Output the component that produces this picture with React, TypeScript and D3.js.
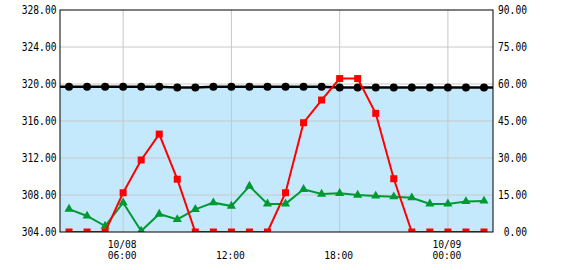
import React from "react";
import * as d3 from "d3";

const startTime = new Date(2024, 9, 8, 3, 0);
const levelValues = [319.7, 319.7, 319.7, 319.7, 319.7, 319.7, 319.62, 319.62, 319.7, 319.7, 319.7, 319.7, 319.7, 319.7, 319.7, 319.62, 319.62, 319.62, 319.62, 319.62, 319.62, 319.62, 319.62, 319.62];
const inflowValues = [0, 0, 0, 15.9, 29.2, 39.7, 21.4, 0, 0, 0, 0, 0, 15.9, 44.3, 53.5, 62.2, 62.2, 48.1, 21.6, 0, 0, 0, 0, 0];
const outflowValues = [9.3, 6.5, 2.4, 11.9, 0.4, 7.3, 5.1, 9.2, 11.9, 10.5, 18.6, 11.4, 11.4, 17.3, 15.4, 15.7, 15.0, 14.6, 14.3, 13.9, 11.4, 11.4, 12.4, 12.6];
const leftTicks = [304, 308, 312, 316, 320, 324, 328];
const rightTicks = [0, 15, 30, 45, 60, 75, 90];
const xTickTimes = [new Date(2024, 9, 8, 6), new Date(2024, 9, 8, 12), new Date(2024, 9, 8, 18), new Date(2024, 9, 9, 0)];
const xTickLines = [["10/08", "06:00"], ["", "12:00"], ["", "18:00"], ["10/09", "00:00"]];

const L = 60, R = 493, T = 10, B = 232;
const FONT = "'DejaVu Sans Mono', monospace";

export default function App() {
  const times = levelValues.map((_, i) => new Date(startTime.getTime() + i * 3600000));
  const x = d3.scaleTime().domain([new Date(2024, 9, 8, 2, 30), new Date(2024, 9, 9, 2, 30)]).range([L, R]);
  const yL = d3.scaleLinear().domain([304, 328]).range([B, T]);
  const yR = d3.scaleLinear().domain([0, 90]).range([B, T]);

  const levelPts: [number, number][] = [
    [L, yL(levelValues[0])],
    ...levelValues.map((v, i) => [x(times[i]), yL(v)] as [number, number]),
    [R, yL(levelValues[levelValues.length - 1])],
  ];
  const line = d3.line();
  const area = d3.area().y0(B);
  const inflowPts = inflowValues.map((v, i) => [x(times[i]), yR(v)] as [number, number]);
  const outflowPts = outflowValues.map((v, i) => [x(times[i]), yR(v)] as [number, number]);
  const tri = d3.symbol(d3.symbolTriangle, 36)();

  const cw = 5.8;
  return (
    <svg width={570} height={270} style={{ position: "absolute", left: 0, top: 0 }}>
      <defs>
        <clipPath id="plot"><rect x={L} y={T} width={R - L} height={B - T} /></clipPath>
      </defs>
      <rect x={0} y={0} width={570} height={270} fill="#fff" />
      <path d={area(levelPts.map(([a, b]) => [a, b + 1]) as any) || ""} fill="#c4e9fc" />
      {leftTicks.slice(1, -1).map((t) => (
        <line key={"h" + t} x1={L} x2={R} y1={yL(t)} y2={yL(t)} stroke="#c8c8c8" strokeWidth={1} />
      ))}
      {xTickTimes.map((t, i) => (
        <line key={"v" + i} x1={x(t)} x2={x(t)} y1={T} y2={B} stroke="#c8c8c8" strokeWidth={1} />
      ))}
      <g clipPath="url(#plot)">
        <path d={line(levelPts) || ""} fill="none" stroke="#000" strokeWidth={2.5} />
        {levelPts.slice(1, -1).map(([a, b], i) => (
          <circle key={"c" + i} cx={a} cy={b} r={4} fill="#000" />
        ))}
        <path d={line(outflowPts) || ""} fill="none" stroke="#009933" strokeWidth={2} />
        {outflowPts.map(([a, b], i) => (
          <path key={"t" + i} d={tri || ""} transform={`translate(${a},${b})`} fill="#009933" />
        ))}
        <path d={line(inflowPts) || ""} fill="none" stroke="#ff0000" strokeWidth={2} />
        {inflowPts.map(([a, b], i) => (
          <rect key={"s" + i} x={a - 3.5} y={b - 3.5} width={7} height={7} fill="#ff0000" />
        ))}
      </g>
      <rect x={L} y={T} width={R - L} height={B - T} fill="none" stroke="#000" strokeWidth={1} />
      {leftTicks.map((t) => {
        const s = t.toFixed(2);
        return (
          <text key={"l" + t} x={56.5} y={yL(t) + 4} textAnchor="end" fontFamily={FONT} fontSize={12}
            textLength={s.length * cw} lengthAdjust="spacingAndGlyphs" fill="#000">{s}</text>
        );
      })}
      {rightTicks.map((t) => {
        const s = t.toFixed(2);
        return (
          <text key={"r" + t} x={527} y={yR(t) + 4} textAnchor="end" fontFamily={FONT} fontSize={12}
            textLength={s.length * cw} lengthAdjust="spacingAndGlyphs" fill="#000">{s}</text>
        );
      })}
      {xTickTimes.map((t, i) => (
        <g key={"x" + i}>
          {xTickLines[i][0] && (
            <text x={x(t) - 1} y={247.5} textAnchor="middle" fontFamily={FONT} fontSize={11}
              textLength={xTickLines[i][0].length * cw} lengthAdjust="spacingAndGlyphs">{xTickLines[i][0]}</text>
          )}
          <text x={x(t) - 1} y={259} textAnchor="middle" fontFamily={FONT} fontSize={11}
            textLength={xTickLines[i][1].length * cw} lengthAdjust="spacingAndGlyphs">{xTickLines[i][1]}</text>
        </g>
      ))}
    </svg>
  );
}
